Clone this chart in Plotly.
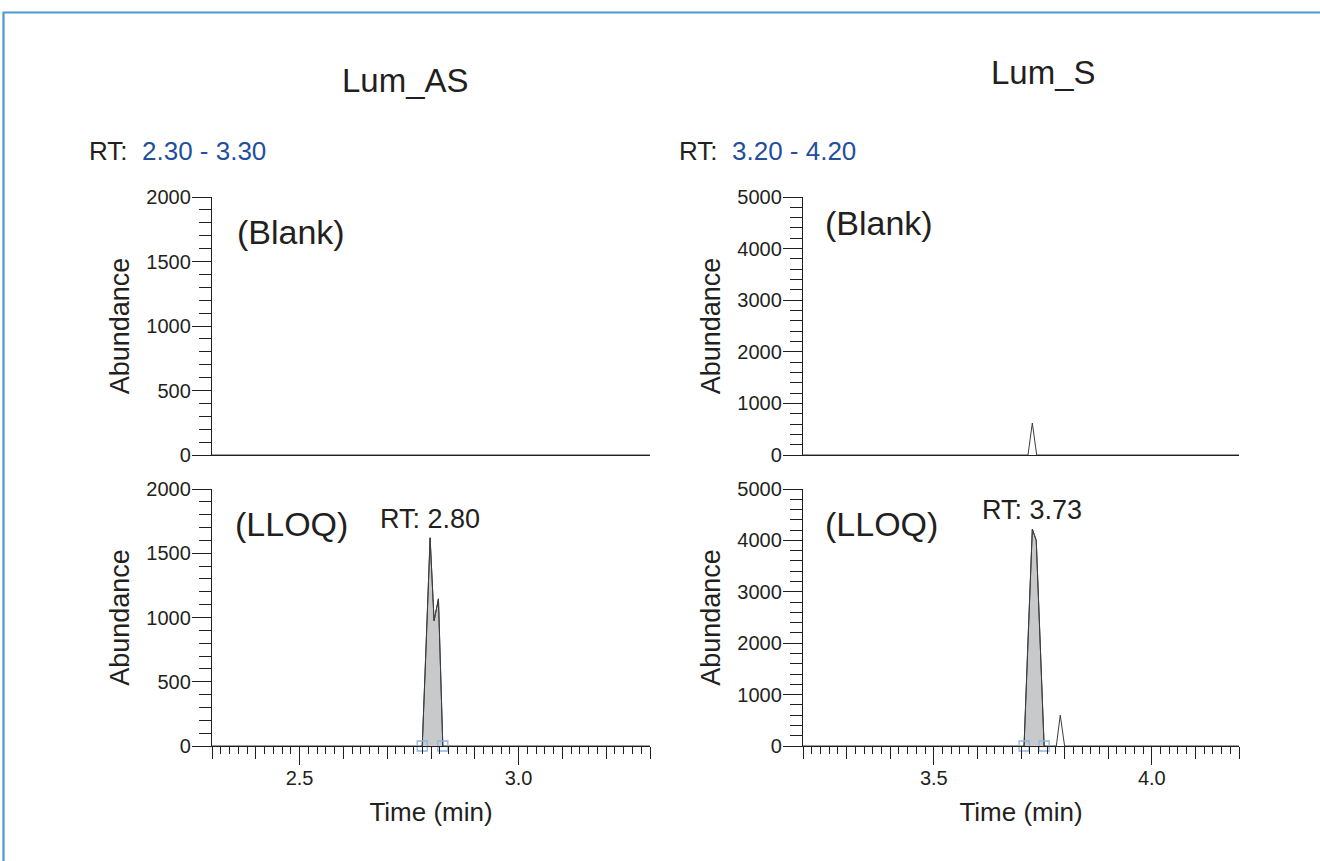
import plotly.graph_objects as go

# ---------------- data ----------------
compounds = ["Lum_AS", "Lum_S"]
sample_labels = ["(Blank)", "(LLOQ)"]

rt_range_as = [2.30, 3.30]
rt_range_s = [3.20, 4.20]

blank_as_time = [2.30, 3.30]
blank_as_abund = [0, 0]

lloq_as_time = [2.30, 2.780, 2.789, 2.798, 2.807, 2.817, 2.827, 3.30]
lloq_as_abund = [0, 0, 790, 1620, 975, 1145, 0, 0]
lloq_as_peak = [2.780, 2.827]

blank_s_time = [3.20, 3.716, 3.726, 3.736, 4.20]
blank_s_abund = [0, 0, 620, 0, 0]

lloq_s_time = [3.20, 3.707, 3.716, 3.726, 3.735, 3.744, 3.753, 3.781, 3.790, 3.800, 4.20]
lloq_s_abund = [0, 0, 2060, 4220, 4000, 2000, 0, 0, 600, 0, 0]
lloq_s_peak = [3.707, 3.753]

y_range_as = [0, 2000]
y_range_s = [0, 5000]
y_ticks_as = [500, 100]     # major, minor step
y_ticks_s = [1000, 200]
x_label_ticks_as = [2.5, 3.0]
x_label_ticks_s = [3.5, 4.0]
x_ticks_step = [0.1, 0.02]  # medium, minor step

# ---------------- layout helpers ----------------
W, H = 1320, 861
FONT = "Liberation Sans, Arial, Helvetica, sans-serif"
INK = "#231f20"
LINE = "#3c3c3c"
FILL = "#c8c9cb"
MARK = "#8fb4dc"
BLUE = "#1f4f9e"


def px(x):
    return x / W


def py(y):
    return 1 - y / H


dom_x = {"L": [px(212), px(650)], "R": [px(803), px(1239)]}
dom_y = {"T": [py(455), py(197)], "B": [py(746), py(489)]}

fig = go.Figure()

panels = [
    ("x", "y", blank_as_time, blank_as_abund, None, rt_range_as, y_range_as, y_ticks_as, "L", "T"),
    ("x2", "y2", blank_s_time, blank_s_abund, None, rt_range_s, y_range_s, y_ticks_s, "R", "T"),
    ("x3", "y3", lloq_as_time, lloq_as_abund, lloq_as_peak, rt_range_as, y_range_as, y_ticks_as, "L", "B"),
    ("x4", "y4", lloq_s_time, lloq_s_abund, lloq_s_peak, rt_range_s, y_range_s, y_ticks_s, "R", "B"),
]

annotations = []
layout_axes = {}

for xa, ya, t, a, peak, xr, yr, yt, col, row in panels:
    if peak is not None:
        pt = [ti for ti in t if peak[0] <= ti <= peak[1]]
        pa = [ai for ti, ai in zip(t, a) if peak[0] <= ti <= peak[1]]
        fig.add_trace(go.Scatter(x=pt, y=pa, mode="lines", fill="tozeroy",
                                 fillcolor=FILL, line=dict(color=LINE, width=1),
                                 xaxis=xa, yaxis=ya, showlegend=False, hoverinfo="skip"))
    fig.add_trace(go.Scatter(x=t, y=a, mode="lines", line=dict(color=LINE, width=1),
                             xaxis=xa, yaxis=ya, showlegend=False))
    if peak is not None:
        fig.add_trace(go.Scatter(x=peak, y=[0, 0], mode="markers",
                                 marker=dict(symbol="square-open", size=10, color=MARK,
                                             line=dict(width=1.3, color=MARK)),
                                 cliponaxis=False, xaxis=xa, yaxis=ya, showlegend=False))
        imax = max(range(len(pa)), key=lambda i: pa[i])
        annotations.append(dict(x=pt[imax], y=pa[imax], xref=xa, yref=ya,
                                text=f"RT: {pt[imax]:.2f}", showarrow=False,
                                xanchor="center", yanchor="bottom", yshift=2,
                                font=dict(size=27, color=INK, family=FONT)))

    xkey = "xaxis" + xa[1:]
    ykey = "yaxis" + ya[1:]
    bottom = row == "B"
    layout_axes[xkey] = dict(
        domain=dom_x[col], anchor=ya, range=xr, showline=True, linecolor=INK,
        linewidth=1.3, showgrid=False, zeroline=False, automargin=False,
        ticks="outside" if bottom else "", tickmode="linear", tick0=xr[0],
        dtick=x_ticks_step[0], ticklen=12, tickwidth=1.2, tickcolor=INK,
        showticklabels=False,
        minor=dict(ticks="outside", dtick=x_ticks_step[1], tick0=xr[0], ticklen=7,
                   tickwidth=1.2, tickcolor=INK) if bottom else dict(ticks=""),
    )
    layout_axes[ykey] = dict(
        domain=dom_y[row], anchor=xa, range=yr, showline=True, linecolor=INK,
        linewidth=1.3, showgrid=False, zeroline=False, automargin=False,
        ticks="outside", tickmode="linear", tick0=0, dtick=yt[0], ticklen=19,
        tickwidth=1.2, tickcolor=INK, tickfont=dict(size=20, color=INK, family=FONT),
        ticklabelstandoff=-3,
        minor=dict(ticks="outside", dtick=yt[1], ticklen=12, tickwidth=1.2, tickcolor=INK),
        title=dict(text="Abundance", font=dict(size=27, color=INK, family=FONT), standoff=8),
    )

# overlay axes for the long labelled ticks on the bottom panels
for ov, base, ya, xr, lbl in [("xaxis5", "x3", "y3", rt_range_as, x_label_ticks_as),
                              ("xaxis6", "x4", "y4", rt_range_s, x_label_ticks_s)]:
    layout_axes[ov] = dict(
        overlaying=base, anchor=ya, range=xr, showline=False, showgrid=False,
        zeroline=False, automargin=False, ticks="outside", tickmode="array",
        tickvals=lbl, ticktext=[f"{v:.1f}" for v in lbl], ticklen=18, tickwidth=1.2,
        tickcolor=INK, tickfont=dict(size=20, color=INK, family=FONT), ticklabelstandoff=-4,
        title=dict(text="Time (min)", font=dict(size=26, color=INK, family=FONT), standoff=14),
    )
    fig.add_trace(go.Scatter(x=xr, y=[None, None], mode="lines", xaxis="x" + ov[5:],
                             yaxis=ya, showlegend=False, hoverinfo="skip"))

# titles and labels
title_pos = [(405, 80), (1043, 73)]
for name, (cx, cy) in zip(compounds, title_pos):
    annotations.append(dict(x=px(cx), y=py(cy), xref="paper", yref="paper", text=name,
                            showarrow=False, xanchor="center", yanchor="middle",
                            font=dict(size=33, color=INK, family=FONT)))

for rng, lx in [(rt_range_as, 87), (rt_range_s, 677)]:
    annotations.append(dict(x=px(lx), y=py(151), xref="paper", yref="paper",
                            text=f"RT:&nbsp;&nbsp;<span style='color:{BLUE}'>{rng[0]:.2f} - {rng[1]:.2f}</span>",
                            showarrow=False, xanchor="left", yanchor="middle",
                            font=dict(size=26, color=INK, family=FONT)))

label_pos = [("x", "y", 0.052, 0.865), ("x2", "y2", 0.046, 0.90),
             ("x3", "y3", 0.048, 0.865), ("x4", "y4", 0.046, 0.865)]
samples = [sample_labels[0], sample_labels[0], sample_labels[1], sample_labels[1]]
for (xa, ya, dx, dy), lab in zip(label_pos, samples):
    annotations.append(dict(x=dx, y=dy, xref=f"{xa} domain", yref=f"{ya} domain", text=lab,
                            showarrow=False, xanchor="left", yanchor="middle",
                            font=dict(size=34, color=INK, family=FONT)))

fig.update_layout(
    width=W, height=H, margin=dict(l=0, r=0, t=0, b=0, autoexpand=False),
    paper_bgcolor="white", plot_bgcolor="white",
    font=dict(family=FONT, color=INK),
    annotations=annotations,
    shapes=[dict(type="rect", xref="paper", yref="paper", x0=px(3.5), x1=1.05,
                 y0=-0.05, y1=py(12.5), line=dict(color="#4b9bcc", width=2.2),
                 fillcolor="rgba(0,0,0,0)", layer="below")],
    **layout_axes,
)

fig.write_html("out.html", config={"displayModeBar": False},
               post_script="document.body.style.margin='0';document.body.style.overflow='hidden';")
